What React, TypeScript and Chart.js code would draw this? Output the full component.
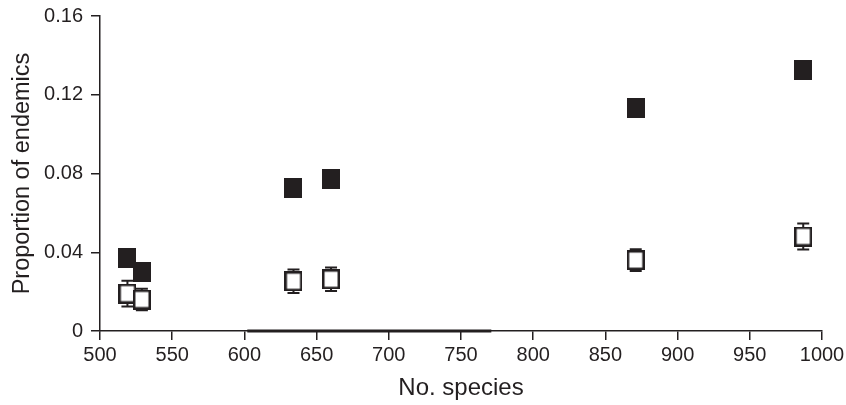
import React, { useEffect, useRef } from "react";
import { Chart, registerables } from "chart.js";

Chart.register(...registerables);

// ---- data ----
const speciesCounts = [519, 529, 634, 660, 871, 987];
const endemicsFilled = [0.037, 0.03, 0.0724, 0.0772, 0.1133, 0.1325];
const endemicsOpen = [0.019, 0.016, 0.0253, 0.0263, 0.036, 0.048];
const endemicsOpenErr = [0.0065, 0.0055, 0.006, 0.006, 0.0055, 0.0066];
const baselineSegmentX = [602, 771];
const baselineSegmentY = [0, 0];

const xMin = 500;
const xMax = 1000;
const xStep = 50;
const yMin = 0;
const yMax = 0.16;
const yStep = 0.04;
const yTickLabels = ["0", "0.04", "0.08", "0.12", "0.16"];

const xTitle = "No. species";
const yTitle = "Proportion of endemics";

const INK = "#231f20";
const FONT = "'Liberation Sans', Arial, Helvetica, sans-serif";

function makeFilledMarker(): HTMLCanvasElement {
  const c = document.createElement("canvas");
  c.width = 18;
  c.height = 20;
  const ctx = c.getContext("2d")!;
  ctx.fillStyle = INK;
  ctx.fillRect(0, 0, 18, 20);
  return c;
}

function makeOpenMarker(): HTMLCanvasElement {
  const c = document.createElement("canvas");
  c.width = 18;
  c.height = 20;
  const ctx = c.getContext("2d")!;
  ctx.fillStyle = "#ffffff";
  ctx.fillRect(0, 0, 18, 20);
  ctx.strokeStyle = INK;
  ctx.lineWidth = 2.5;
  ctx.strokeRect(1.25, 1.25, 15.5, 17.5);
  return c;
}

const errorBarPlugin = {
  id: "openErrorBars",
  beforeDatasetDraw(chart: any, args: any) {
    const ds = chart.data.datasets[args.index];
    if (!ds || !ds.errors) return;
    const { ctx, scales } = chart;
    const xs = scales.x;
    const ys = scales.y;
    ctx.save();
    ctx.strokeStyle = INK;
    ctx.lineWidth = 2;
    ds.data.forEach((p: any, i: number) => {
      const e = ds.errors[i];
      const px = xs.getPixelForValue(p.x);
      const top = ys.getPixelForValue(p.y + e);
      const bot = ys.getPixelForValue(p.y - e);
      ctx.beginPath();
      ctx.moveTo(px, top);
      ctx.lineTo(px, bot);
      ctx.moveTo(px - 6, top);
      ctx.lineTo(px + 6, top);
      ctx.moveTo(px - 6, bot);
      ctx.lineTo(px + 6, bot);
      ctx.stroke();
    });
    ctx.restore();
  },
};

export default function App() {
  const ref = useRef<HTMLCanvasElement | null>(null);

  useEffect(() => {
    if (!ref.current) return;
    const filled = makeFilledMarker();
    const open = makeOpenMarker();

    const chart = new Chart(ref.current, {
      type: "scatter",
      data: {
        datasets: [
          {
            label: "open",
            data: speciesCounts.map((x, i) => ({ x, y: endemicsOpen[i] })),
            errors: endemicsOpenErr,
            pointStyle: open,
            pointRadius: 10,
            clip: false,
          } as any,
          {
            label: "filled",
            data: speciesCounts.map((x, i) => ({ x, y: endemicsFilled[i] })),
            pointStyle: filled,
            pointRadius: 10,
            clip: false,
          } as any,
          {
            type: "line",
            label: "baseline",
            data: baselineSegmentX.map((x, i) => ({ x, y: baselineSegmentY[i] })),
            borderColor: INK,
            borderWidth: 3,
            pointRadius: 0,
            showLine: true,
            clip: false,
          } as any,
        ],
      },
      options: {
        responsive: false,
        animation: false,
        events: [],
        layout: { padding: { top: 16, right: 24, left: 0, bottom: 0 } },
        plugins: {
          legend: { display: false },
          tooltip: { enabled: false },
        },
        scales: {
          x: {
            type: "linear",
            min: xMin,
            max: xMax,
            afterFit: (s: any) => {
              s.height = 74;
              s.paddingLeft = 0;
              s.paddingRight = 0;
            },
            ticks: {
              stepSize: xStep,
              color: INK,
              font: { family: FONT, size: 20 },
              padding: 3,
              maxRotation: 0,
              callback: (v: any) => String(v),
            },
            grid: {
              display: true,
              drawOnChartArea: false,
              drawTicks: true,
              tickLength: 9,
              color: INK,
              lineWidth: 1.5,
            },
            border: { display: true, color: INK, width: 1.5 },
            title: {
              display: true,
              text: xTitle,
              color: INK,
              font: { family: FONT, size: 24 },
              padding: { top: 0, bottom: 2 },
            },
          },
          y: {
            type: "linear",
            min: yMin,
            max: yMax,
            afterFit: (s: any) => {
              s.width = 100;
              s.paddingTop = 0;
              s.paddingBottom = 0;
            },
            ticks: {
              stepSize: yStep,
              color: INK,
              font: { family: FONT, size: 20 },
              padding: 8,
              callback: (v: any, i: number) => yTickLabels[i] ?? String(v),
            },
            grid: {
              display: true,
              drawOnChartArea: false,
              drawTicks: true,
              tickLength: 9,
              color: INK,
              lineWidth: 1.5,
            },
            border: { display: true, color: INK, width: 1.5 },
            title: {
              display: true,
              text: yTitle,
              color: INK,
              font: { family: FONT, size: 23.5 },
              padding: { top: 8, bottom: 0 },
            },
          },
        },
      },
      plugins: [errorBarPlugin],
    } as any);

    return () => chart.destroy();
  }, []);

  return (
    <div style={{ position: "fixed", left: 0, top: 0, width: 846, height: 405, background: "#fff" }}>
      <canvas ref={ref} width={846} height={405} style={{ display: "block" }} />
    </div>
  );
}
